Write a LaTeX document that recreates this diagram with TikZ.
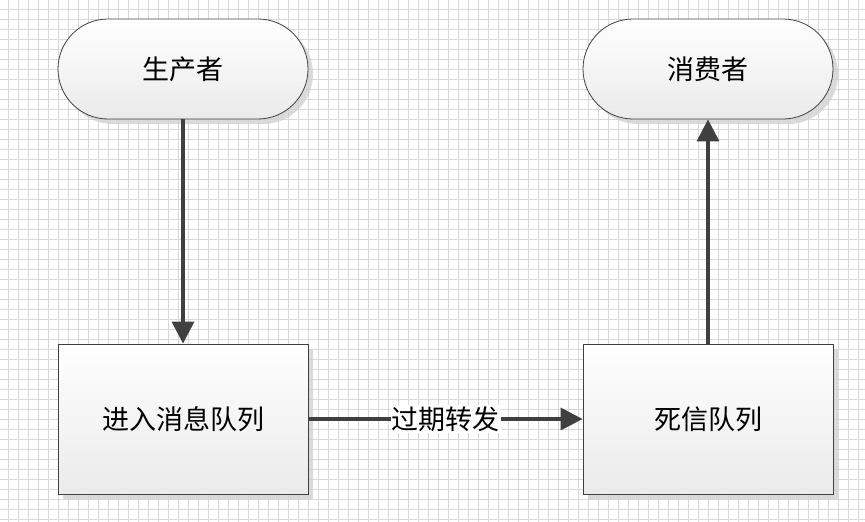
\documentclass[tikz,border=0pt]{standalone}
\usepackage{fontspec}
\newfontfamily\cjk{Noto Sans CJK SC}
\usetikzlibrary{shapes.misc,arrows.meta,shadows}
\definecolor{linec}{HTML}{404040}
\definecolor{gridc}{HTML}{D8D8D8}
\tikzset{
  boxbase/.style={draw=linec, line width=0.8pt, top color=white, bottom color=black!8,
    drop shadow={shadow xshift=5pt, shadow yshift=-5pt, fill=black!18, opacity=0.8},
    font=\cjk\fontsize{27}{27}\selectfont, text=black},
  term/.style={boxbase, rounded rectangle, minimum width=250pt, minimum height=100pt, inner sep=0pt},
  proc/.style={boxbase, rectangle, minimum width=250pt, minimum height=150pt, inner sep=0pt},
  flow/.style={draw=linec, line width=3.5pt, -{Triangle[length=22pt,width=22pt]}},
  lbl/.style={fill=white, inner sep=1pt, font=\cjk\fontsize{27}{27}\selectfont, text=black}
}
\begin{document}
\begin{tikzpicture}[x=1pt,y=-1pt]
\useasboundingbox (0,0) rectangle (865,522);
\fill[white] (0,0) rectangle (865,522);
\foreach \i in {0,...,86} {\draw[gridc, line width=0.5pt] (8+10*\i,0) -- (8+10*\i,522);}
\foreach \j in {0,...,52} {\draw[gridc, line width=0.5pt] (0,9+10*\j) -- (865,9+10*\j);}
\node[term] (prod) at (183,69) {生产者};
\node[term] (cons) at (708,69) {消费者};
\node[proc] (queue) at (183,419) {进入消息队列};
\node[proc] (dlq) at (708,419) {死信队列};
\draw[flow] (prod.south) -- (queue.north);
\draw[flow] (queue.east) -- node[lbl] {过期转发} (dlq.west);
\draw[flow] (dlq.north) -- (cons.south);
\end{tikzpicture}
\end{document}
